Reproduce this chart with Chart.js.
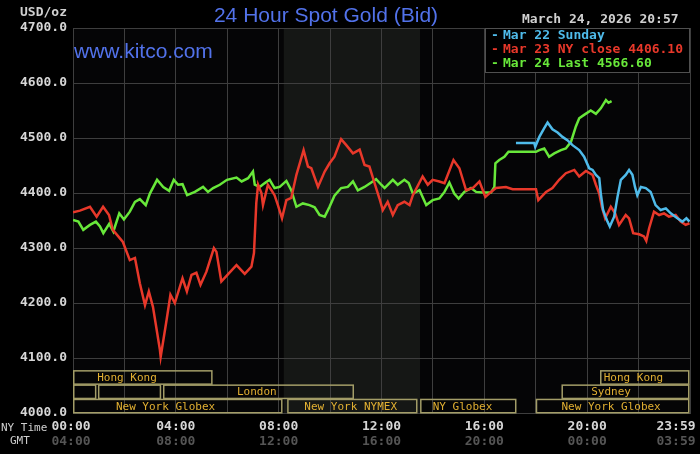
<!DOCTYPE html>
<html>
<head>
<meta charset="utf-8">
<script src="https://cdn.jsdelivr.net/npm/chart.js@4.4.1/dist/chart.umd.min.js"></script>
<style>
html,body{margin:0;padding:0;background:#000;overflow:hidden}
canvas{display:block}
</style>
</head>
<body>
<canvas id="canvas" width="700" height="454"></canvas>
<script>
// hours since 00:00 NY time, prices in USD/oz
const blueTimes=[17.23,17.94,17.98,18.14,18.33,18.46,18.65,18.85,19.04,19.23,19.43,19.69,19.88,20.08,20.21,20.34,20.47,20.53,20.62,20.79,20.88,21.05,21.18,21.31,21.5,21.63,21.76,21.86,21.95,22.09,22.28,22.47,22.66,22.86,23.06,23.25,23.51,23.7,23.86,23.98];
const bluePrices=[4491,4491,4484,4502,4518,4528,4516,4510,4502,4496,4487,4478,4466,4445,4442,4433,4427,4399,4369,4348,4339,4357,4393,4424,4433,4442,4433,4411,4396,4411,4409,4402,4378,4369,4372,4363,4354,4348,4354,4348];

const redTimes=[0,0.27,0.66,0.92,1.17,1.4,1.55,1.94,2.21,2.41,2.6,2.8,2.95,3.11,3.38,3.41,3.64,3.79,3.96,4.26,4.43,4.61,4.8,4.96,5.19,5.48,5.58,5.77,6.06,6.36,6.68,6.94,7.04,7.13,7.2,7.33,7.39,7.58,7.72,7.84,7.97,8.13,8.3,8.49,8.69,8.97,9.14,9.27,9.53,9.79,9.98,10.17,10.43,10.63,10.89,11.15,11.34,11.53,11.73,11.92,12.05,12.24,12.44,12.63,12.89,13.09,13.22,13.6,13.8,13.99,14.25,14.45,14.8,15.03,15.29,15.55,15.81,16.04,16.26,16.45,16.84,17.1,18.01,18.1,18.4,18.65,18.91,19.17,19.5,19.69,19.95,20.21,20.34,20.47,20.57,20.7,20.92,21.09,21.24,21.5,21.63,21.79,22.02,22.21,22.3,22.41,22.6,22.8,22.99,23.18,23.44,23.64,23.83,23.98];
const redPrices=[4365,4368,4375,4357,4375,4360,4333,4311,4278,4282,4236,4196,4221,4193,4115,4102,4169,4215,4200,4245,4221,4251,4255,4233,4257,4300,4293,4239,4254,4269,4253,4266,4291,4382,4415,4400,4378,4415,4405,4396,4378,4354,4387,4391,4433,4478,4448,4445,4411,4439,4454,4466,4498,4487,4472,4479,4451,4448,4418,4390,4369,4384,4360,4378,4384,4378,4396,4430,4415,4424,4421,4418,4460,4445,4405,4409,4421,4393,4402,4409,4411,4407,4407,4387,4402,4409,4424,4436,4442,4430,4440,4433,4415,4399,4375,4354,4375,4363,4342,4360,4354,4327,4325,4321,4313,4336,4366,4360,4363,4357,4360,4348,4342,4345];

const greenTimes=[0,0.21,0.4,0.66,0.89,1.05,1.18,1.41,1.57,1.8,1.98,2.21,2.41,2.6,2.83,2.99,3.27,3.51,3.74,3.92,4.09,4.26,4.44,4.74,5.06,5.25,5.45,5.71,5.99,6.36,6.56,6.81,7,7.07,7.26,7.46,7.65,7.84,8.04,8.3,8.49,8.69,8.94,9.2,9.4,9.59,9.79,9.98,10.17,10.43,10.69,10.89,11.08,11.34,11.6,11.79,11.99,12.12,12.44,12.63,12.89,13.06,13.22,13.48,13.74,13.99,14.25,14.45,14.64,14.83,15,15.22,15.48,15.68,15.93,16.26,16.39,16.43,16.58,16.78,16.94,18.01,18.14,18.33,18.52,18.72,18.98,19.17,19.37,19.56,19.69,19.88,20.14,20.34,20.53,20.73,20.83,20.95];
const greenPrices=[4351,4348,4333,4342,4348,4339,4327,4344,4330,4363,4352,4366,4384,4389,4378,4399,4424,4411,4404,4424,4415,4416,4396,4402,4411,4402,4409,4415,4424,4428,4421,4427,4439,4415,4411,4418,4424,4409,4411,4422,4405,4375,4381,4378,4374,4360,4357,4375,4395,4409,4411,4421,4405,4411,4419,4425,4415,4409,4424,4415,4424,4418,4399,4405,4378,4387,4390,4402,4419,4399,4390,4402,4409,4402,4401,4401,4411,4454,4460,4466,4475,4475,4478,4481,4466,4472,4478,4481,4493,4521,4536,4542,4550,4544,4554,4569,4564,4567];

const seriesLabels=["Mar 22 Sunday","Mar 23 NY close 4406.10","Mar 24 Last 4566.60"];
const tickHours=[0,4,8,12,16,20,24];
const nyLabels=["00:00","04:00","08:00","12:00","16:00","20:00","23:59"];
const gmtLabels=["04:00","08:00","12:00","16:00","20:00","00:00","03:59"];
const pitHours=[8.2,13.5];

// trading session boxes (row 0 = top)
const sessionNames=["Hong Kong","","","London","New York Globex","New York NYMEX","NY Globex","New York Globex","Sydney","Hong Kong"];
const sessionRows=[0,1,1,1,2,2,2,2,1,0];
const sessionStarts=[0,0,0.97,3.5,0,8.33,13.5,18,19,20.5];
const sessionEnds=[5.45,0.93,3.45,10.95,8.17,13.42,17.27,24,24,24];
const sessionLabelAt=[2.1,0,0,7.15,3.6,10.8,15.15,20.93,20.93,21.8];

const mono="'DejaVu Sans Mono', monospace";
const colors={blue:"#4fbbea",red:"#e8382a",green:"#68e83a"};

function pts(times,prices){
    return times.map((t,i)=>({x:t,y:prices[i]}));
}

const kitcoPlugin={
    id:"kitco",
    beforeDraw(chart){
        const {ctx,chartArea:a,scales:{x}}=chart;
        ctx.save();
        ctx.fillStyle="#000";
        ctx.fillRect(0,0,chart.width,chart.height);
        ctx.fillStyle="#050506";
        ctx.fillRect(a.left,a.top,a.right-a.left,a.bottom-a.top);
        const s0=x.getPixelForValue(pitHours[0]);
        const s1=x.getPixelForValue(pitHours[1]);
        ctx.fillStyle="#151715";
        ctx.fillRect(s0,a.top,s1-s0,a.bottom-a.top);
        ctx.restore();
    },
    afterDraw(chart){
        const {ctx,chartArea:a,scales:{x}}=chart;
        ctx.save();
        // session boxes
        const rowH=14.3;
        ctx.font="11px "+mono;
        ctx.textAlign="center";
        ctx.textBaseline="middle";
        sessionNames.forEach((name,i)=>{
            const top=a.bottom-(3-sessionRows[i])*rowH;
            const x0=x.getPixelForValue(sessionStarts[i]);
            const x1=x.getPixelForValue(sessionEnds[i]);
            ctx.strokeStyle="#a39d68";
            ctx.lineWidth=1.5;
            ctx.strokeRect(x0+0.75,top+0.75,x1-x0-2,rowH-1);
            if(name){
                ctx.fillStyle="#e2b032";
                ctx.fillText(name,x.getPixelForValue(sessionLabelAt[i]),top+rowH/2+1);
            }
        });
        // legend box
        ctx.fillStyle="#000";
        ctx.fillRect(485,a.top,a.right-485,44);
        ctx.strokeStyle="#505050";
        ctx.lineWidth=1;
        ctx.strokeRect(485.5,a.top+0.5,a.right-486,44);
        ctx.font="bold 13px "+mono;
        ctx.textAlign="left";
        chart.data.datasets.forEach((ds,i)=>{
            ctx.fillStyle=ds.borderColor;
            ctx.fillText("-",491,a.top+8+i*14);
            ctx.fillText(ds.label,503,a.top+8+i*14);
        });
        // x labels
        ctx.font="bold 13px "+mono;
        tickHours.forEach((h,i)=>{
            let px=x.getPixelForValue(h);
            if(i===tickHours.length-1){px=676;}
            if(i===0){px=71;}
            ctx.textAlign="center";
            ctx.fillStyle="#d6d6d6";
            ctx.fillText(nyLabels[i],px,427);
            ctx.fillStyle="#555";
            ctx.fillText(gmtLabels[i],px,442);
        });
        ctx.font="11px "+mono;
        ctx.textAlign="left";
        ctx.fillStyle="#cfcfcf";
        ctx.fillText("NY Time",1,428);
        ctx.fillText("GMT",10,441);
        // header texts
        ctx.font="bold 13px "+mono;
        ctx.textAlign="right";
        ctx.fillStyle="#d0d0d0";
        ctx.fillText("USD/oz",67,13);
        ctx.textAlign="left";
        ctx.fillText("March 24, 2026 20:57",522,20);
        ctx.font="21px 'Liberation Sans', Arial, sans-serif";
        ctx.fillStyle="#5272ea";
        ctx.textAlign="center";
        ctx.fillText("24 Hour Spot Gold (Bid)",326,16);
        ctx.textAlign="left";
        ctx.fillText("www.kitco.com",74,52);
        ctx.restore();
    }
};

new Chart(document.getElementById("canvas"),{
    type:"line",
    data:{
        datasets:[
            {label:seriesLabels[0],data:pts(blueTimes,bluePrices),borderColor:colors.blue},
            {label:seriesLabels[1],data:pts(redTimes,redPrices),borderColor:colors.red},
            {label:seriesLabels[2],data:pts(greenTimes,greenPrices),borderColor:colors.green}
        ]
    },
    options:{
        responsive:false,
        animation:false,
        devicePixelRatio:1,
        layout:{padding:{left:0,top:28,right:10,bottom:41}},
        elements:{
            line:{borderWidth:2.5,tension:0,fill:false},
            point:{radius:0}
        },
        plugins:{legend:{display:false},tooltip:{enabled:false}},
        scales:{
            x:{
                type:"linear",
                min:0,
                max:24,
                ticks:{display:false,stepSize:2},
                grid:{color:"#3e3e3e",drawTicks:false},
                border:{color:"#3e3e3e"},
                afterFit(scale){scale.height=0;}
            },
            y:{
                min:4000,
                max:4700,
                ticks:{
                    stepSize:100,
                    padding:6,
                    color:"#d6d6d6",
                    font:{family:"DejaVu Sans Mono",size:13,weight:"bold"},
                    callback:v=>v.toFixed(1)
                },
                grid:{color:"#3e3e3e",drawTicks:false},
                border:{color:"#3e3e3e"},
                afterFit(scale){scale.width=73;}
            }
        }
    },
    plugins:[kitcoPlugin]
});
</script>
</body>
</html>
